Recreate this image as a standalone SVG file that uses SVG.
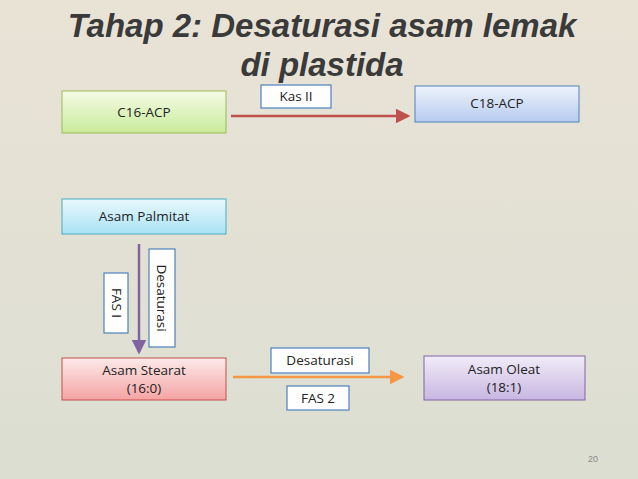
<svg xmlns="http://www.w3.org/2000/svg" width="638" height="479" viewBox="0 0 638 479">
<defs>
<linearGradient id="bg" x1="0" y1="0" x2="0" y2="1"><stop offset="0" stop-color="#e9e3d6"/><stop offset="1" stop-color="#dcded2"/></linearGradient>
<linearGradient id="g" x1="0" y1="0" x2="0" y2="1"><stop offset="0" stop-color="#f4fbe6"/><stop offset="1" stop-color="#c9eb9a"/></linearGradient>
<linearGradient id="b" x1="0" y1="0" x2="0" y2="1"><stop offset="0" stop-color="#eef3fc"/><stop offset="1" stop-color="#b6cbef"/></linearGradient>
<linearGradient id="c" x1="0" y1="0" x2="0" y2="1"><stop offset="0" stop-color="#e9f8fd"/><stop offset="1" stop-color="#a9e2f5"/></linearGradient>
<linearGradient id="r" x1="0" y1="0" x2="0" y2="1"><stop offset="0" stop-color="#fdeaea"/><stop offset="1" stop-color="#f5a3a3"/></linearGradient>
<linearGradient id="p" x1="0" y1="0" x2="0" y2="1"><stop offset="0" stop-color="#f1ecf8"/><stop offset="1" stop-color="#c8b6e2"/></linearGradient>
<marker id="ar" markerWidth="6" markerHeight="6" refX="5" refY="3" orient="auto" markerUnits="strokeWidth"><path d="M0,0 L6,3 L0,6 z" fill="#c0504d"/></marker>
<marker id="ap" markerWidth="6" markerHeight="6" refX="5" refY="3" orient="auto" markerUnits="strokeWidth"><path d="M0,0 L6,3 L0,6 z" fill="#8064a2"/></marker>
<marker id="ao" markerWidth="6" markerHeight="6" refX="5" refY="3" orient="auto" markerUnits="strokeWidth"><path d="M0,0 L6,3 L0,6 z" fill="#f79646"/></marker>
</defs>
<style>
.t{font-family:"Open Sans","Liberation Sans",sans-serif;font-size:13.5px;fill:#222;text-anchor:middle}
.n{stroke-width:1}
.l{fill:#fff;stroke:#4f81bd;stroke-width:1.2}
</style>
<rect width="638" height="479" fill="url(#bg)"/>
<g font-family="Liberation Sans,Arial,sans-serif" font-weight="bold" font-style="italic" font-size="33" fill="#3a3a3a" text-anchor="middle">
<text x="322" y="37">Tahap 2: Desaturasi asam lemak</text>
<text x="322" y="76">di plastida</text>
</g>
<g id="connectors">
<line x1="231" y1="116" x2="408" y2="116" stroke="#c0504d" stroke-width="2.5" marker-end="url(#ar)"/>
<line x1="139" y1="244" x2="139" y2="352" stroke="#8064a2" stroke-width="2.5" marker-end="url(#ap)"/>
<line x1="233" y1="377" x2="402" y2="377" stroke="#f79646" stroke-width="2.5" marker-end="url(#ao)"/>
</g>
<g id="c16"><rect x="62" y="91" width="164" height="42" fill="url(#g)" stroke="#9bbb59" class="n"/><text class="t" x="144" y="117">C16-ACP</text></g>
<g id="c18"><rect x="415" y="86" width="164" height="36" fill="url(#b)" stroke="#4f81bd" class="n"/><text class="t" x="497" y="108">C18-ACP</text></g>
<g id="kas"><rect x="261" y="85" width="70" height="23" class="l"/><text class="t" x="296" y="101">Kas II</text></g>
<g id="palmitat"><rect x="62" y="199" width="164" height="35" fill="url(#c)" stroke="#4bacc6" class="n"/><text class="t" x="144" y="221">Asam Palmitat</text></g>
<g id="desat1"><rect x="149" y="249" width="26" height="98" class="l"/><text class="t" transform="translate(157,298) rotate(90)">Desaturasi</text></g>
<g id="fas1"><rect x="104" y="273" width="24" height="60" class="l"/><text class="t" transform="translate(112,303) rotate(90)">FAS I</text></g>
<g id="stearat"><rect x="62" y="358" width="164" height="42" fill="url(#r)" stroke="#c0504d" class="n"/><text class="t" x="144" y="375">Asam Stearat</text><text class="t" x="144" y="393">(16:0)</text></g>
<g id="desat2"><rect x="271" y="348" width="98" height="25" class="l"/><text class="t" x="320" y="365">Desaturasi</text></g>
<g id="fas2"><rect x="287" y="386" width="62" height="24" class="l"/><text class="t" x="318" y="403">FAS 2</text></g>
<g id="oleat"><rect x="424" y="356" width="161" height="44" fill="url(#p)" stroke="#8064a2" class="n"/><text class="t" x="504" y="374">Asam Oleat</text><text class="t" x="504" y="392">(18:1)</text></g>
<text x="593" y="462" font-family="Liberation Sans,sans-serif" font-size="9" fill="#888" text-anchor="middle">20</text>
</svg>
